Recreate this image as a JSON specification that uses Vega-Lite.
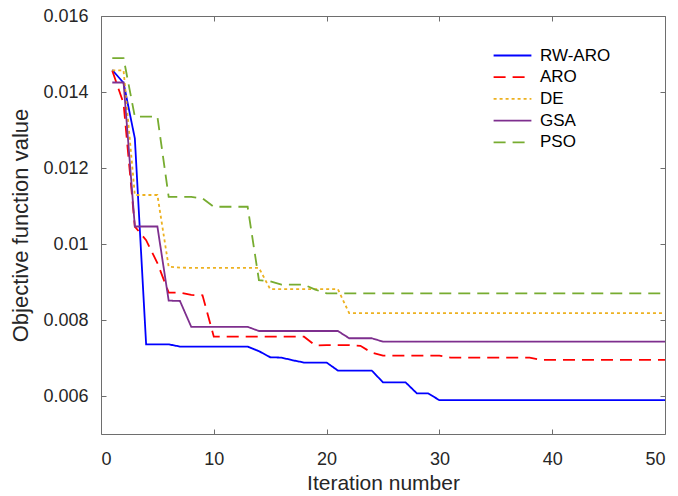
{
  "$schema": "https://vega.github.io/schema/vega-lite/v6.json",
  "width": 564,
  "height": 418,
  "autosize": "none",
  "padding": {"left": 101, "top": 16, "right": 13, "bottom": 62},
  "background": "white",
  "config": {
    "view": {"stroke": null},
    "font": "Liberation Sans",
    "axis": {
      "grid": false,
      "domainColor": "#6e6e6e",
      "domainWidth": 1,
      "tickColor": "#6e6e6e",
      "tickSize": -5,
      "labelColor": "#262626",
      "titleColor": "#262626",
      "labelFontSize": 18,
      "titleFontSize": 21,
      "titleFontWeight": "normal",
      "labelFont": "Liberation Sans",
      "titleFont": "Liberation Sans"
    }
  },
  "data": {
    "values": [
      {"it": 1, "RW-ARO": 0.01458, "ARO": 0.01456, "DE": 0.01457, "GSA": 0.01425, "PSO": 0.01489},
      {"it": 2, "RW-ARO": 0.01424, "ARO": 0.01370, "DE": 0.01457, "GSA": 0.01425, "PSO": 0.01489},
      {"it": 3, "RW-ARO": 0.01278, "ARO": 0.01046, "DE": 0.01129, "GSA": 0.01046, "PSO": 0.01335},
      {"it": 4, "RW-ARO": 0.00736, "ARO": 0.01010, "DE": 0.01129, "GSA": 0.01046, "PSO": 0.01335},
      {"it": 5, "RW-ARO": 0.00736, "ARO": 0.00950, "DE": 0.01129, "GSA": 0.01046, "PSO": 0.01335},
      {"it": 6, "RW-ARO": 0.00736, "ARO": 0.00872, "DE": 0.00940, "GSA": 0.00851, "PSO": 0.01124},
      {"it": 7, "RW-ARO": 0.00730, "ARO": 0.00872, "DE": 0.00938, "GSA": 0.00850, "PSO": 0.01124},
      {"it": 8, "RW-ARO": 0.00730, "ARO": 0.00866, "DE": 0.00937, "GSA": 0.00782, "PSO": 0.01124},
      {"it": 9, "RW-ARO": 0.00730, "ARO": 0.00865, "DE": 0.00937, "GSA": 0.00782, "PSO": 0.01120},
      {"it": 10, "RW-ARO": 0.00730, "ARO": 0.00756, "DE": 0.00937, "GSA": 0.00782, "PSO": 0.01098},
      {"it": 11, "RW-ARO": 0.00730, "ARO": 0.00756, "DE": 0.00937, "GSA": 0.00782, "PSO": 0.01098},
      {"it": 12, "RW-ARO": 0.00730, "ARO": 0.00756, "DE": 0.00937, "GSA": 0.00782, "PSO": 0.01098},
      {"it": 13, "RW-ARO": 0.00730, "ARO": 0.00756, "DE": 0.00937, "GSA": 0.00782, "PSO": 0.01098},
      {"it": 14, "RW-ARO": 0.00718, "ARO": 0.00756, "DE": 0.00937, "GSA": 0.00771, "PSO": 0.00905},
      {"it": 15, "RW-ARO": 0.00702, "ARO": 0.00756, "DE": 0.00881, "GSA": 0.00771, "PSO": 0.00902},
      {"it": 16, "RW-ARO": 0.00701, "ARO": 0.00756, "DE": 0.00881, "GSA": 0.00771, "PSO": 0.00893},
      {"it": 17, "RW-ARO": 0.00694, "ARO": 0.00756, "DE": 0.00881, "GSA": 0.00771, "PSO": 0.00893},
      {"it": 18, "RW-ARO": 0.00688, "ARO": 0.00756, "DE": 0.00881, "GSA": 0.00771, "PSO": 0.00893},
      {"it": 19, "RW-ARO": 0.00688, "ARO": 0.00733, "DE": 0.00881, "GSA": 0.00771, "PSO": 0.00880},
      {"it": 20, "RW-ARO": 0.00688, "ARO": 0.00734, "DE": 0.00881, "GSA": 0.00771, "PSO": 0.00870},
      {"it": 21, "RW-ARO": 0.00667, "ARO": 0.00734, "DE": 0.00881, "GSA": 0.00771, "PSO": 0.00870},
      {"it": 22, "RW-ARO": 0.00667, "ARO": 0.00734, "DE": 0.00818, "GSA": 0.00752, "PSO": 0.00870},
      {"it": 23, "RW-ARO": 0.00667, "ARO": 0.00732, "DE": 0.00818, "GSA": 0.00752, "PSO": 0.00870},
      {"it": 24, "RW-ARO": 0.00667, "ARO": 0.00714, "DE": 0.00818, "GSA": 0.00752, "PSO": 0.00870},
      {"it": 25, "RW-ARO": 0.00636, "ARO": 0.00706, "DE": 0.00818, "GSA": 0.00743, "PSO": 0.00870},
      {"it": 26, "RW-ARO": 0.00636, "ARO": 0.00706, "DE": 0.00818, "GSA": 0.00743, "PSO": 0.00870},
      {"it": 27, "RW-ARO": 0.00636, "ARO": 0.00706, "DE": 0.00818, "GSA": 0.00743, "PSO": 0.00870},
      {"it": 28, "RW-ARO": 0.00607, "ARO": 0.00706, "DE": 0.00818, "GSA": 0.00743, "PSO": 0.00870},
      {"it": 29, "RW-ARO": 0.00607, "ARO": 0.00706, "DE": 0.00818, "GSA": 0.00743, "PSO": 0.00870},
      {"it": 30, "RW-ARO": 0.00589, "ARO": 0.00706, "DE": 0.00818, "GSA": 0.00743, "PSO": 0.00870},
      {"it": 31, "RW-ARO": 0.00589, "ARO": 0.00701, "DE": 0.00818, "GSA": 0.00743, "PSO": 0.00870},
      {"it": 32, "RW-ARO": 0.00589, "ARO": 0.00701, "DE": 0.00818, "GSA": 0.00743, "PSO": 0.00870},
      {"it": 33, "RW-ARO": 0.00589, "ARO": 0.00701, "DE": 0.00818, "GSA": 0.00743, "PSO": 0.00870},
      {"it": 34, "RW-ARO": 0.00589, "ARO": 0.00701, "DE": 0.00818, "GSA": 0.00743, "PSO": 0.00870},
      {"it": 35, "RW-ARO": 0.00589, "ARO": 0.00701, "DE": 0.00818, "GSA": 0.00743, "PSO": 0.00870},
      {"it": 36, "RW-ARO": 0.00589, "ARO": 0.00701, "DE": 0.00818, "GSA": 0.00743, "PSO": 0.00870},
      {"it": 37, "RW-ARO": 0.00589, "ARO": 0.00701, "DE": 0.00818, "GSA": 0.00743, "PSO": 0.00870},
      {"it": 38, "RW-ARO": 0.00589, "ARO": 0.00701, "DE": 0.00818, "GSA": 0.00743, "PSO": 0.00870},
      {"it": 39, "RW-ARO": 0.00589, "ARO": 0.00695, "DE": 0.00818, "GSA": 0.00743, "PSO": 0.00870},
      {"it": 40, "RW-ARO": 0.00589, "ARO": 0.00695, "DE": 0.00818, "GSA": 0.00743, "PSO": 0.00870},
      {"it": 41, "RW-ARO": 0.00589, "ARO": 0.00695, "DE": 0.00818, "GSA": 0.00743, "PSO": 0.00870},
      {"it": 42, "RW-ARO": 0.00589, "ARO": 0.00695, "DE": 0.00818, "GSA": 0.00743, "PSO": 0.00870},
      {"it": 43, "RW-ARO": 0.00589, "ARO": 0.00695, "DE": 0.00818, "GSA": 0.00743, "PSO": 0.00870},
      {"it": 44, "RW-ARO": 0.00589, "ARO": 0.00695, "DE": 0.00818, "GSA": 0.00743, "PSO": 0.00870},
      {"it": 45, "RW-ARO": 0.00589, "ARO": 0.00695, "DE": 0.00818, "GSA": 0.00743, "PSO": 0.00870},
      {"it": 46, "RW-ARO": 0.00589, "ARO": 0.00695, "DE": 0.00818, "GSA": 0.00743, "PSO": 0.00870},
      {"it": 47, "RW-ARO": 0.00589, "ARO": 0.00695, "DE": 0.00818, "GSA": 0.00743, "PSO": 0.00870},
      {"it": 48, "RW-ARO": 0.00589, "ARO": 0.00695, "DE": 0.00818, "GSA": 0.00743, "PSO": 0.00870},
      {"it": 49, "RW-ARO": 0.00589, "ARO": 0.00695, "DE": 0.00818, "GSA": 0.00743, "PSO": 0.00870},
      {"it": 50, "RW-ARO": 0.00589, "ARO": 0.00695, "DE": 0.00818, "GSA": 0.00743, "PSO": 0.00870}
    ]
  },
  "transform": [
    {"fold": ["RW-ARO", "ARO", "DE", "GSA", "PSO"], "as": ["alg", "v"]}
  ],
  "layer": [
    {
      "mark": {"type": "line", "strokeWidth": 1.8, "clip": true},
      "encoding": {
        "x": {
          "field": "it", "type": "quantitative",
          "scale": {"domain": [0, 50], "nice": false},
          "axis": {"values": [0, 10, 20, 30, 40, 50], "title": "Iteration number", "labelPadding": 21, "titlePadding": 4}
        },
        "y": {
          "field": "v", "type": "quantitative",
          "scale": {"domain": [0.005, 0.016], "nice": false, "zero": false},
          "axis": {"values": [0.006, 0.008, 0.01, 0.012, 0.014, 0.016], "format": "~g", "title": "Objective function value", "titleFontSize": 22, "labelPadding": 18, "titlePadding": 10}
        },
        "color": {
          "field": "alg", "type": "nominal",
          "scale": {"domain": ["RW-ARO", "ARO", "DE", "GSA", "PSO"], "range": ["#0000FF", "#FF0000", "#EDB120", "#7E2F8E", "#77AC30"]},
          "legend": {
            "title": null, "orient": "none", "legendX": 400, "legendY": 28, "padding": 0,
            "labelFontSize": 17, "labelColor": "#000000", "labelFont": "Liberation Sans",
            "symbolType": "M-1.8,0H1.8", "symbolSize": 441, "symbolStrokeWidth": 1.8,
            "labelOffset": 16, "rowPadding": 1.7
          }
        },
        "strokeDash": {
          "field": "alg", "type": "nominal",
          "scale": {"domain": ["RW-ARO", "ARO", "DE", "GSA", "PSO"], "range": [[1, 0], [12, 7], [3, 3], [1, 0], [12, 7]]},
          "legend": null
        }
      }
    },
    {
      "mark": {"type": "line", "strokeOpacity": 0},
      "encoding": {
        "x": {
          "field": "it", "type": "quantitative",
          "scale": {"domain": [0, 50], "nice": false},
          "axis": {"orient": "top", "values": [0, 10, 20, 30, 40, 50], "labels": false, "title": null}
        },
        "y": {
          "field": "v", "type": "quantitative",
          "scale": {"domain": [0.005, 0.016], "nice": false, "zero": false},
          "axis": {"orient": "right", "values": [0.006, 0.008, 0.01, 0.012, 0.014, 0.016], "labels": false, "title": null}
        },
        "detail": {"field": "alg", "type": "nominal"}
      }
    }
  ],
  "resolve": {"axis": {"x": "independent", "y": "independent"}}
}
